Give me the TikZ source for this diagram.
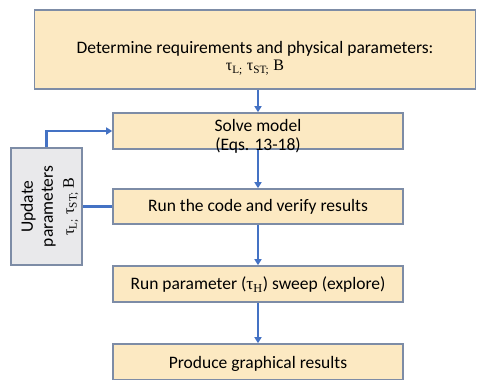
\documentclass[tikz,border=0pt]{standalone}
\usepackage{fontspec}
\setmainfont{Carlito}
\newfontfamily\grk{Liberation Serif}
\usetikzlibrary{arrows.meta}
\definecolor{boxfill}{HTML}{FCE9C2}
\definecolor{boxline}{HTML}{7D8CA6}
\definecolor{grayfill}{HTML}{E9E9EB}
\definecolor{flow}{HTML}{4472C4}
\newcommand{\tauset}{{\grk τ\textsubscript{L;} τ\textsubscript{ST;} B}}
\begin{document}
\begin{tikzpicture}[x=1pt,y=-1pt,
  stepbox/.style={draw=boxline, line width=1.6pt, fill=boxfill, inner sep=0pt},
  sidebox/.style={draw=boxline, line width=1.6pt, fill=grayfill, inner sep=0pt},
  steptext/.style={inner sep=0pt, align=center, font=\fontsize{17.5}{17}\selectfont},
  flowline/.style={draw=flow, line width=2.4pt},
  flowarrow/.style={flowline, -{Triangle[length=6pt,width=7pt]}}]
\useasboundingbox (0,0) rectangle (477,380);
% boxes of the main sequence
\node[stepbox, minimum width=441pt, minimum height=79pt] (req) at (255,49.5) {};
\node[stepbox, minimum width=290pt, minimum height=36pt] (solve) at (258,131) {};
\node[stepbox, minimum width=290pt, minimum height=35pt] (run) at (258,206.5) {};
\node[stepbox, minimum width=290pt, minimum height=36pt] (sweep) at (258,284) {};
\node[stepbox, minimum width=290pt, minimum height=36pt] (prod) at (258,362) {};
% side box for the update loop
\node[sidebox, minimum width=71pt, minimum height=117pt] (upd) at (46.5,206.5) {};
% texts of the boxes
\node[steptext] (reqtext) at ([yshift=-9pt]req.center)
  {Determine requirements and physical parameters:\\[0pt] {\fontsize{16}{16}\selectfont\tauset}};
\node[steptext] (solvetext) at ([yshift=-5pt]solve.center)
  {Solve model\\[2pt](Eqs. 13-18)};
\node[steptext] (runtext) at (run.center) {Run the code and verify results};
\node[steptext] (sweeptext) at ([yshift=-1pt]sweep.center)
  {Run parameter ({\grk τ\textsubscript{H}}) sweep (explore)};
\node[steptext] (prodtext) at ([yshift=-2pt]prod.center) {Produce graphical results};
\node[steptext, rotate=90] (updtext) at ([xshift=3pt]upd.center)
  {Update\\[3pt]parameters\\[4pt]{\fontsize{16}{16}\selectfont\tauset}};
% connectors
\draw[flowarrow] (req.south -| solve.north) -- (solve.north);
\draw[flowarrow] (solve) -- (run);
\draw[flowarrow] (run) -- (sweep);
\draw[flowarrow] (sweep) -- (prod);
\draw[flowline] (run.west) -- (upd.east |- run.west);
\coordinate (corner) at (upd.north |- solve.west);
\draw[flowarrow] (upd.north) -- (corner) -- (solve.west);
\end{tikzpicture}
\end{document}
